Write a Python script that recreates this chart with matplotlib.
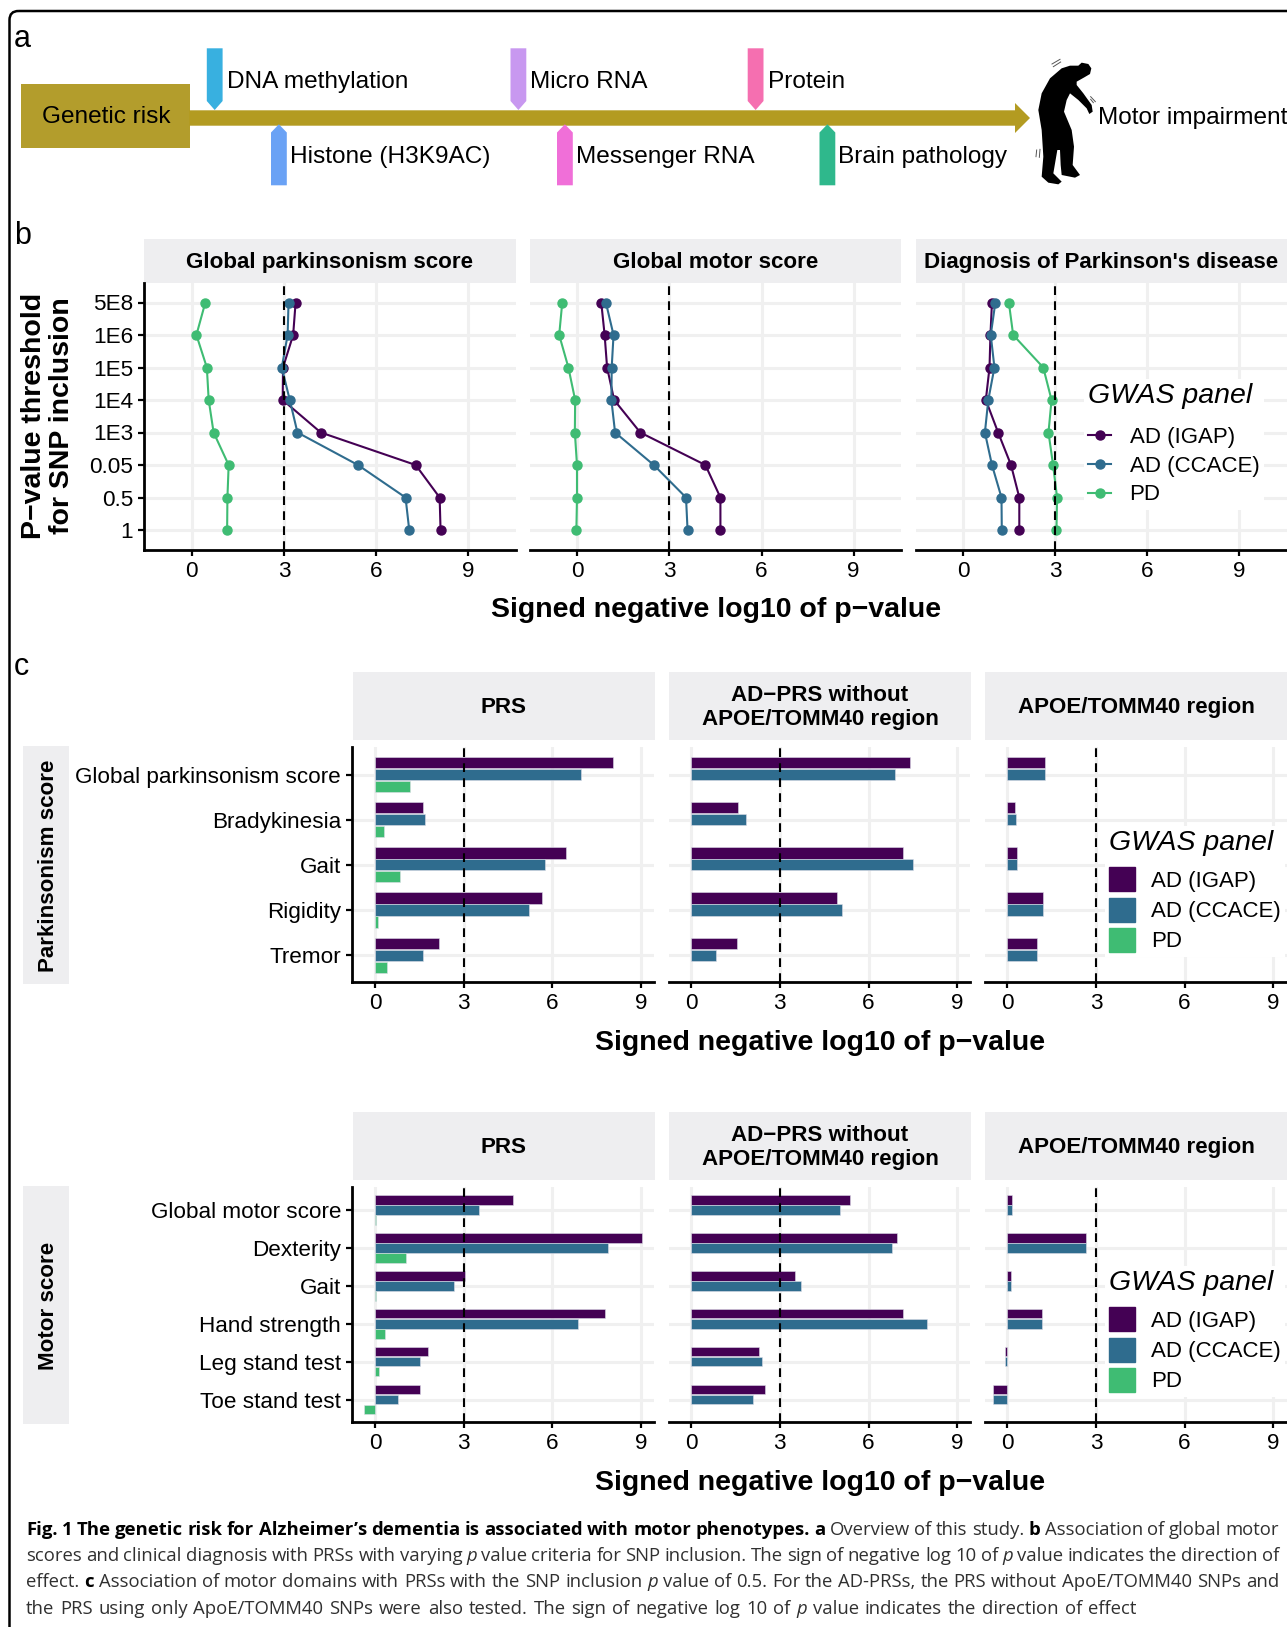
import matplotlib
matplotlib.use('Agg')
import matplotlib.pyplot as plt
from matplotlib.lines import Line2D
from matplotlib.patches import FancyBboxPatch, Patch, Polygon, Rectangle

plt.rcParams['font.family'] = ['Liberation Sans', 'DejaVu Sans']

W, H = 1287, 1627

# panel b
thresholds = ['5E8', '1E6', '1E5', '1E4', '1E3', '0.05', '0.5', '1']
b_titles = ['Global parkinsonism score', 'Global motor score', "Diagnosis of Parkinson's disease"]
parkinsonism_igap = [3.38, 3.30, 2.97, 2.96, 4.20, 7.29, 8.07, 8.10]
parkinsonism_ccace = [3.15, 3.12, 2.93, 3.19, 3.44, 5.41, 6.96, 7.08]
parkinsonism_pd = [0.44, 0.15, 0.49, 0.55, 0.71, 1.20, 1.16, 1.15]
motor_igap = [0.78, 0.89, 0.97, 1.20, 2.05, 4.17, 4.66, 4.66]
motor_ccace = [0.93, 1.18, 1.12, 1.11, 1.23, 2.49, 3.54, 3.59]
motor_pd = [-0.49, -0.59, -0.29, -0.07, -0.08, -0.01, -0.01, -0.03]
diag_igap = [0.94, 0.89, 0.86, 0.74, 1.14, 1.56, 1.83, 1.83]
diag_ccace = [1.05, 0.90, 1.02, 0.82, 0.71, 0.94, 1.25, 1.26]
diag_pd = [1.49, 1.63, 2.61, 2.88, 2.78, 2.93, 3.06, 3.04]

# panel c
c_titles = ['PRS', 'AD\u2212PRS without\nAPOE/TOMM40 region', 'APOE/TOMM40 region']
park_items = ['Global parkinsonism score', 'Bradykinesia', 'Gait', 'Rigidity', 'Tremor']
park_prs_igap = [8.07, 1.61, 6.47, 5.66, 2.16]
park_prs_ccace = [6.96, 1.69, 5.75, 5.22, 1.61]
park_prs_pd = [1.17, 0.31, 0.85, 0.10, 0.41]
park_noapoe_igap = [7.39, 1.59, 7.15, 4.92, 1.55]
park_noapoe_ccace = [6.89, 1.85, 7.52, 5.09, 0.84]
park_apoe_igap = [1.26, 0.27, 0.32, 1.19, 0.99]
park_apoe_ccace = [1.27, 0.28, 0.33, 1.19, 1.00]

motor_items = ['Global motor score', 'Dexterity', 'Gait', 'Hand strength', 'Leg stand test', 'Toe stand test']
motor_prs_igap = [4.67, 9.05, 3.04, 7.77, 1.78, 1.51]
motor_prs_ccace = [3.53, 7.89, 2.69, 6.87, 1.54, 0.77]
motor_prs_pd = [0.02, 1.04, 0.04, 0.33, 0.14, -0.36]
motor_noapoe_igap = [5.37, 6.95, 3.50, 7.18, 2.29, 2.50]
motor_noapoe_ccace = [5.03, 6.79, 3.72, 7.99, 2.40, 2.08]
motor_apoe_igap = [0.15, 2.65, 0.13, 1.17, -0.07, -0.47]
motor_apoe_ccace = [0.15, 2.66, 0.13, 1.18, -0.07, -0.47]

panel_names = ['AD (IGAP)', 'AD (CCACE)', 'PD']
colors = ['#440154', '#2F6C8E', '#3FBC73']
xticks = [0, 3, 6, 9]

TICK = 16.2
LEG = 16
STRIP = 16.1
AXT = 20.5
SCHEME = 17.6
strip_bg = '#EEEEF0'
grid_c = '#F0F0F0'

fig = plt.figure(figsize=(W / 100, H / 100), dpi=100)

# whole figure in pixels, for the schematic and the caption
bg = fig.add_axes([0, 0, 1, 1])
bg.set_xlim(0, W)
bg.set_ylim(H, 0)
bg.axis('off')


def px_axes(l, t, r, b):
    return fig.add_axes([l / W, 1 - b / H, (r - l) / W, (b - t) / H], facecolor='none')


def style_panel(ax, first, labels):
    ax.grid(True, color=grid_c, lw=2.2)
    ax.set_axisbelow(True)
    for s in ['top', 'right']:
        ax.spines[s].set_visible(False)
    ax.spines['bottom'].set_linewidth(2.0)
    ax.spines['left'].set_linewidth(2.0)
    ax.spines['left'].set_visible(first)
    ax.set_xticks(xticks)
    ax.set_yticks(range(len(labels)))
    if first:
        ax.set_yticklabels(labels)
    else:
        ax.tick_params(axis='y', left=False, labelleft=False)
    ax.tick_params(axis='both', labelsize=TICK, width=1.6, length=4, pad=4)
    ax.axvline(3, color='black', lw=1.5, ls=(0, (4.2, 3)), zorder=4)


def strip(l, t, r, b, text):
    bg.add_patch(Rectangle((l, t), r - l, b - t, color=strip_bg, lw=0))
    bg.text((l + r) / 2, (t + b) / 2 + 1.5, text, ha='center', va='center',
            fontsize=STRIP, fontweight='bold', linespacing=1.15)


# --- panel a
bg.add_patch(FancyBboxPatch((9.5, 11), 1400, 1640, boxstyle='round,pad=0,rounding_size=9',
                            fc='none', ec='black', lw=1.8))
gold = '#B39B21'
bg.add_patch(Rectangle((21.3, 84), 168.3, 64.3, color='#B39D2C', lw=0))
bg.add_patch(Polygon([(189, 110.3), (1015, 110.3), (1015, 103), (1030, 118), (1015, 133),
                      (1015, 125.7), (189, 125.7)], color=gold, lw=0))
bg.text(106.7, 116.5, 'Genetic risk', ha='center', va='center', fontsize=SCHEME)

up_flags = [(206.8, '#38B0E0', 'DNA methylation'), (510.5, '#C898F0', 'Micro RNA'), (747.7, '#F56FB0', 'Protein')]
down_flags = [(271, '#6AA2F5', 'Histone (H3K9AC)'), (557, '#F06FD8', 'Messenger RNA'), (819.5, '#2FB88C', 'Brain pathology')]
for x, c, name in up_flags:
    w = 15.8
    bg.add_patch(Polygon([(x, 48.3), (x + w, 48.3), (x + w, 101), (x + w / 2, 110), (x, 101)], color=c, lw=0))
    bg.text(x + w + 4, 82, name, ha='left', va='center', fontsize=SCHEME)
for x, c, name in down_flags:
    w = 15.8
    bg.add_patch(Polygon([(x, 185.3), (x + w, 185.3), (x + w, 132.5), (x + w / 2, 124.3), (x, 132.5)], color=c, lw=0))
    bg.text(x + w + 3, 157, name, ha='left', va='center', fontsize=SCHEME)
bg.text(1098, 118, 'Motor impairment', ha='left', va='center', fontsize=SCHEME)

figure_shape = [(125, 55), (150, 47), (175, 47), (185, 38), (205, 42), (214, 55), (210, 72), (193, 82), (170, 95),
                (170, 105), (190, 130), (215, 165), (218, 185), (208, 192), (200, 175), (175, 150), (150, 130),
                (140, 150), (132, 185), (155, 240), (162, 290), (158, 345), (180, 375), (165, 383), (125, 375),
                (122, 345), (120, 300), (112, 300), (100, 370), (125, 395), (115, 403), (85, 398), (65, 380),
                (70, 320), (65, 240), (55, 180), (65, 130), (90, 85)]
bg.add_patch(Polygon([(1020 + x / 3, 50 + y / 3) for x, y in figure_shape], color='black', lw=0))
# little shake marks round the figure
shake_marks = [((96, 120), (42, 28)), ((100, 122), (50, 36)), ((212, 226), (140, 155)), ((212, 220), (148, 158)),
               ((50, 48), (300, 320)), ((60, 58), (298, 322))]
for xs, ys in shake_marks:
    bg.plot([1020 + x / 3 for x in xs], [50 + y / 3 for y in ys], color='#555555', lw=0.7)

for s, y in [('a', 38.5), ('b', 235.5), ('c', 667)]:
    bg.text(14, y, s, ha='left', va='center', fontsize=22)

# --- panel b
b_left = [144.2, 529.7, 915.5]
b_series = [(parkinsonism_igap, parkinsonism_ccace, parkinsonism_pd),
            (motor_igap, motor_ccace, motor_pd),
            (diag_igap, diag_ccace, diag_pd)]
for i, (l, series) in enumerate(zip(b_left, b_series)):
    ax = px_axes(l, 283, l + 371.6, 549.5)
    style_panel(ax, i == 0, thresholds)
    for vals, c in zip(series, colors):
        ax.plot(vals, range(len(thresholds)), color=c, lw=1.5, marker='o', ms=6.5, zorder=3, clip_on=False)
    ax.set_xlim(-1.55, 10.55)
    ax.set_ylim(7.6, -0.6)
    strip(l, 239, l + 371.6, 283, b_titles[i])

bg.text(716, 610, 'Signed negative log10 of p\u2212value', ha='center', va='center', fontsize=AXT, fontweight='bold')
bg.text(48, 416, 'P\u2212value threshold\nfor SNP inclusion', rotation=90, ha='center', va='center',
        fontsize=AXT, fontweight='bold', linespacing=1.12)

leg = fig.legend(handles=[Line2D([], [], color=c, lw=1.5, marker='o', ms=6.5) for c in colors], labels=panel_names,
                 title='GWAS panel', loc='upper left', bbox_to_anchor=(1084 / W, 1 - 379 / H), alignment='left',
                 fontsize=LEG, frameon=True, framealpha=1, facecolor='white', edgecolor='none', fancybox=False,
                 borderpad=0.2, borderaxespad=0, labelspacing=0.355, handlelength=1.0, handletextpad=0.85)
leg.get_title().set_fontsize(20.5)
leg.get_title().set_fontstyle('italic')
leg._legend_box.sep = 12.4


# --- panel c
def bar_block(top, items, block, strip_name):
    n = len(items)
    c_left = [352.2, 668.5, 984.6]
    strip_left = [352.9, 669, 985.2]
    for i, (l, series) in enumerate(zip(c_left, block)):
        ax = px_axes(l, top + 75.7, l + 302, top + 310.6)
        style_panel(ax, i == 0, items)
        for j, vals in enumerate(series):
            ypos = [k - 0.265 + 0.265 * j for k in range(n)]
            ax.barh(ypos, vals, height=0.25, color=colors[j], edgecolor='#DDDDE8', lw=0.4, zorder=2)
        ax.set_xlim(-0.77, 9.45)
        ax.set_ylim(n - 0.4, -0.6)
        strip(strip_left[i], top, strip_left[i] + 302, top + 68.3, c_titles[i])
    bg.add_patch(Rectangle((23, top + 74.5), 46.4, 237.5, color=strip_bg, lw=0))
    bg.text(49, top + 194, strip_name, rotation=90, ha='center', va='center', fontsize=STRIP, fontweight='bold')
    bg.text(820, top + 371.5, 'Signed negative log10 of p\u2212value', ha='center', va='center',
            fontsize=AXT, fontweight='bold')
    lg = fig.legend(handles=[Patch(color=c) for c in colors], labels=panel_names, title='GWAS panel',
                    loc='upper left', bbox_to_anchor=(1105 / W, 1 - (top + 154) / H), alignment='left',
                    fontsize=LEG, frameon=True, framealpha=1, facecolor='white', edgecolor='none', fancybox=False,
                    borderpad=0.2, borderaxespad=0, labelspacing=0.26, handlelength=1.15, handleheight=1.3,
                    handletextpad=0.72)
    lg.get_title().set_fontsize(20.5)
    lg.get_title().set_fontstyle('italic')
    lg._legend_box.sep = 8


bar_block(671.7, park_items,
          [(park_prs_igap, park_prs_ccace, park_prs_pd),
           (park_noapoe_igap, park_noapoe_ccace),
           (park_apoe_igap, park_apoe_ccace)], 'Parkinsonism score')
bar_block(1111.7, motor_items,
          [(motor_prs_igap, motor_prs_ccace, motor_prs_pd),
           (motor_noapoe_igap, motor_noapoe_ccace),
           (motor_apoe_igap, motor_apoe_ccace)], 'Motor score')

# --- caption, bold/regular/italic pieces set word by word and spread to the line end
R, B, I = ('normal', 'normal'), ('bold', 'normal'), ('normal', 'italic')
caption = [
    [("Fig. 1 The genetic risk for Alzheimer\u2019s dementia is associated with motor phenotypes. a", B),
     ("Overview of this study.", R), ("b", B), ("Association of global motor", R)],
    [("scores and clinical diagnosis with PRSs with varying", R), ("p", I),
     ("value criteria for SNP inclusion. The sign of negative log 10 of", R), ("p", I),
     ("value indicates the direction of", R)],
    [("effect.", R), ("c", B), ("Association of motor domains with PRSs with the SNP inclusion", R), ("p", I),
     ("value of 0.5. For the AD-PRSs, the PRS without ApoE/TOMM40 SNPs and", R)],
    [("the PRS using only ApoE/TOMM40 SNPs were also tested. The sign of negative log 10 of", R), ("p", I),
     ("value indicates the direction of effect", R)],
]
baselines = [1535, 1561, 1587, 1614]
line_ends = [1279, 1279, 1279, 1136]
CAP = 13.3
cap_family = ['Open Sans', 'DejaVu Sans']
renderer = fig.canvas.get_renderer()
for line, y, end in zip(caption, baselines, line_ends):
    words = []
    for s, kind in line:
        for word in s.split(' '):
            t = bg.text(26, y, word, fontsize=CAP, fontweight=kind[0], fontstyle=kind[1], family=cap_family,
                        color='black' if kind[0] == 'bold' else '#303030', ha='left', va='baseline')
            words.append((t, t.get_window_extent(renderer).width))
    gap = (end - 26 - sum(w for t, w in words)) / (len(words) - 1)
    x = 26
    for t, w in words:
        t.set_x(x)
        x += w + gap

fig.savefig('out.png', dpi=100)
